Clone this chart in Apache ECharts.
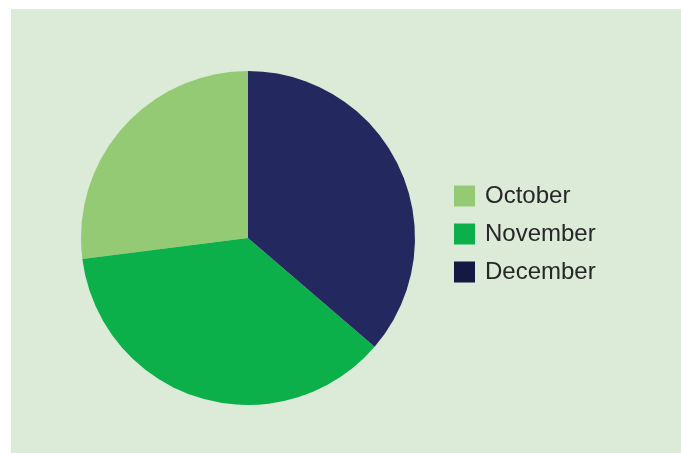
<!DOCTYPE html>
<html><head><meta charset="utf-8">
<script src="https://cdn.jsdelivr.net/npm/echarts@6/dist/echarts.min.js"></script>
<style>html,body{margin:0;padding:0;background:#fff}#c{width:681px;height:453px}</style>
</head><body><div id="c"></div>
<script>
const categories = ['October', 'November', 'December'];
const values = [27.0, 36.7, 36.3];
const colors = ['#94CA73', '#0BB04B', '#23285E'];
const legendColors = ['#94CA73', '#0BB04B', '#141944'];

const chart = echarts.init(document.getElementById('c'), null, {renderer: 'canvas'});
chart.setOption({
  animation: false,
  backgroundColor: '#ffffff',
  graphic: [{type: 'rect', z: -10, shape: {x: 11, y: 9, width: 670, height: 444}, style: {fill: '#DCEBD8'}}],
  legend: {
    orient: 'vertical', left: 454, top: 184, padding: 0,
    itemWidth: 21, itemHeight: 21, itemGap: 14,
    icon: 'rect',
    textStyle: {fontFamily: 'Liberation Sans', fontSize: 24, color: '#262626', padding: [0, 0, 0, 5]},
    data: categories.map((c, i) => ({name: c, itemStyle: {color: legendColors[i]}}))
  },
  series: [{
    type: 'pie', center: [248, 238], radius: 167,
    startAngle: 90, clockwise: false,
    label: {show: false}, labelLine: {show: false},
    itemStyle: {borderWidth: 0},
    emphasis: {disabled: true},
    data: categories.map((c, i) => ({name: c, value: values[i], itemStyle: {color: colors[i]}}))
  }]
});
</script></body></html>
